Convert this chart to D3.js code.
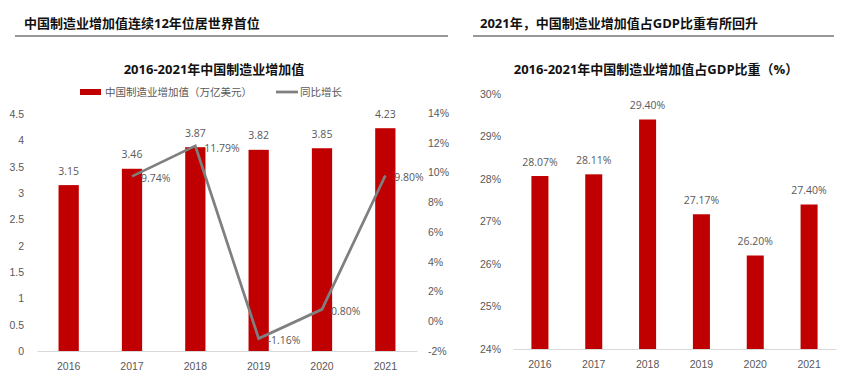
<!DOCTYPE html>
<html>
<head>
<meta charset="utf-8">
<script src="https://cdn.jsdelivr.net/npm/d3@7"></script>
<style>
  body { margin: 0; background: #fff; }
  svg { display: block; font-family: "Open Sans", "Noto Sans CJK SC", sans-serif; }
  .tick text { fill: #595959; font-size: 10.5px; }
</style>
</head>
<body>
<svg width="855" height="386"></svg>
<script>
// data
var years = ["2016", "2017", "2018", "2019", "2020", "2021"];
var valueAdded = [3.15, 3.46, 3.87, 3.82, 3.85, 4.23];      // 万亿美元
var growth = [null, 9.74, 11.79, -1.16, 0.80, 9.80];        // 同比增长 %
var gdpShare = [28.07, 28.11, 29.40, 27.17, 26.20, 27.40];  // 占GDP比重 %

var leftTicks = [0, 0.5, 1, 1.5, 2, 2.5, 3, 3.5, 4, 4.5];
var growthTicks = [-2, 0, 2, 4, 6, 8, 10, 12, 14];
var shareTicks = [24, 25, 26, 27, 28, 29, 30];

var red = "#c00000", grey = "#7f7f7f", txt = "#595959";

var svg = d3.select("svg");

// section headers
function header(x, x1, x2, label) {
    svg.append("text")
        .attr("x", x).attr("y", 23).attr("dy", "0.35em")
        .style("font-size", "13px").style("font-weight", "bold")
        .style("fill", "#111")
        .text(label);
    svg.append("line")
        .attr("x1", x1).attr("x2", x2).attr("y1", 36).attr("y2", 36)
        .style("stroke", "#333").style("stroke-width", 1.2);
}
header(24, 15, 448, "中国制造业增加值连续12年位居世界首位");
header(480, 473, 834, "2021年，中国制造业增加值占GDP比重有所回升");

function chartTitle(cx, label) {
    svg.append("text")
        .attr("x", cx).attr("y", 69).attr("dy", "0.35em")
        .attr("text-anchor", "middle")
        .style("font-size", "13px").style("font-weight", "bold")
        .style("fill", "#111")
        .text(label);
}
chartTitle(214, "2016-2021年中国制造业增加值");
chartTitle(656, "2016-2021年中国制造业增加值占GDP比重（%）");

function cleanAxis(g) {
    g.select(".domain").remove();
}

// ---------- left chart ----------
var x1 = d3.scaleBand().domain(years).range([37, 417])
    .paddingInner(0.68).paddingOuter(0.34);
var y1 = d3.scaleLinear().domain([0, 4.5]).range([351, 114]);
var y1r = d3.scaleLinear().domain([-2, 14]).range([351, 113]);

var left = svg.append("g");

left.append("g")
    .attr("transform", "translate(37,0)")
    .call(d3.axisLeft(y1).tickValues(leftTicks).tickSize(0).tickPadding(13)
        .tickFormat(function(d) { return String(d); }))
    .call(cleanAxis);

left.append("g")
    .attr("transform", "translate(417,0)")
    .call(d3.axisRight(y1r).tickValues(growthTicks).tickSize(0).tickPadding(11)
        .tickFormat(function(d) { return d + "%"; }))
    .call(cleanAxis);

left.append("g")
    .attr("transform", "translate(0,351)")
    .call(d3.axisBottom(x1).tickSize(0).tickPadding(12))
    .call(function(g) { g.select(".domain").style("stroke", "#d9d9d9"); });

left.selectAll(".bar")
    .data(valueAdded)
    .enter().append("rect")
        .attr("class", "bar")
        .attr("x", function(d, i) { return x1(years[i]); })
        .attr("width", x1.bandwidth())
        .attr("y", function(d) { return y1(d); })
        .attr("height", function(d) { return y1(0) - y1(d); })
        .style("fill", red);

left.selectAll(".barlabel")
    .data(valueAdded)
    .enter().append("text")
        .attr("class", "barlabel")
        .attr("x", function(d, i) { return x1(years[i]) + x1.bandwidth() / 2; })
        .attr("y", function(d) { return y1(d) - 14; })
        .attr("dy", "0.35em")
        .attr("text-anchor", "middle")
        .style("font-size", "10.5px").style("fill", txt)
        .text(function(d) { return d.toFixed(2); });

var pts = growth.map(function(v, i) { return { year: years[i], v: v }; })
    .filter(function(d) { return d.v !== null; });

var line = d3.line()
    .x(function(d) { return x1(d.year) + x1.bandwidth() / 2; })
    .y(function(d) { return y1r(d.v); });

left.append("path")
    .datum(pts)
    .attr("d", line)
    .style("fill", "none")
    .style("stroke", grey)
    .style("stroke-width", 2.75);

left.selectAll(".linelabel")
    .data(pts)
    .enter().append("text")
        .attr("class", "linelabel")
        .attr("x", function(d) { return x1(d.year) + x1.bandwidth() / 2 + 9; })
        .attr("y", function(d) { return y1r(d.v) + 2; })
        .attr("dy", "0.35em")
        .style("font-size", "10.5px").style("fill", txt)
        .text(function(d) { return d.v.toFixed(2) + "%"; });

// legend
left.append("rect")
    .attr("x", 80).attr("y", 89).attr("width", 21).attr("height", 6)
    .style("fill", red);
left.append("text")
    .attr("x", 105).attr("y", 92).attr("dy", "0.35em")
    .style("font-size", "10.5px").style("fill", txt)
    .text("中国制造业增加值（万亿美元）");
left.append("line")
    .attr("x1", 276).attr("x2", 298).attr("y1", 92).attr("y2", 92)
    .style("stroke", grey).style("stroke-width", 2.75);
left.append("text")
    .attr("x", 300).attr("y", 92).attr("dy", "0.35em")
    .style("font-size", "10.5px").style("fill", txt)
    .text("同比增长");

// ---------- right chart ----------
var x2 = d3.scaleBand().domain(years).range([513, 836])
    .paddingInner(0.684).paddingOuter(0.342);
var y2 = d3.scaleLinear().domain([24, 30]).range([349, 94]);

var right = svg.append("g");

right.append("g")
    .attr("transform", "translate(513,0)")
    .call(d3.axisLeft(y2).tickValues(shareTicks).tickSize(0).tickPadding(12)
        .tickFormat(function(d) { return d + "%"; }))
    .call(cleanAxis);

right.append("g")
    .attr("transform", "translate(0,349)")
    .call(d3.axisBottom(x2).tickSize(0).tickPadding(12))
    .call(function(g) { g.select(".domain").style("stroke", "#d9d9d9"); });

right.selectAll(".bar")
    .data(gdpShare)
    .enter().append("rect")
        .attr("class", "bar")
        .attr("x", function(d, i) { return x2(years[i]); })
        .attr("width", x2.bandwidth())
        .attr("y", function(d) { return y2(d); })
        .attr("height", function(d) { return y2(24) - y2(d); })
        .style("fill", red);

right.selectAll(".barlabel")
    .data(gdpShare)
    .enter().append("text")
        .attr("class", "barlabel")
        .attr("x", function(d, i) { return x2(years[i]) + x2.bandwidth() / 2; })
        .attr("y", function(d) { return y2(d) - 14; })
        .attr("dy", "0.35em")
        .attr("text-anchor", "middle")
        .style("font-size", "10.5px").style("fill", txt)
        .text(function(d) { return d.toFixed(2) + "%"; });
</script>
</body>
</html>
